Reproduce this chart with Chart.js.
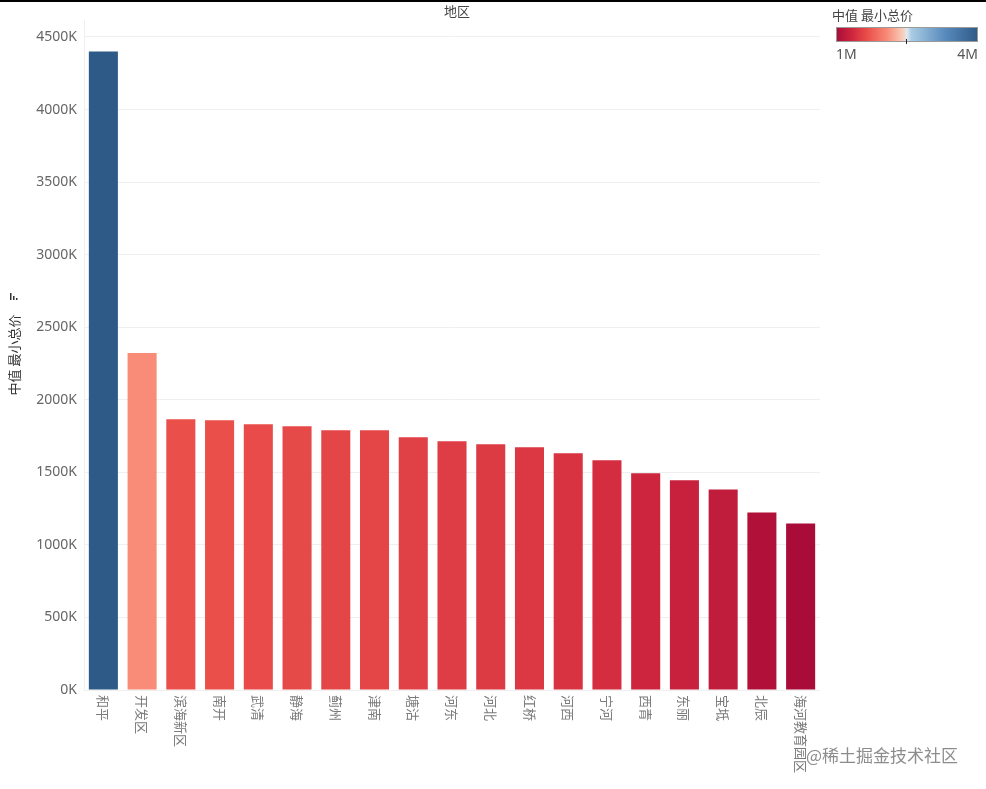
<!DOCTYPE html>
<html>
<head>
<meta charset="utf-8">
<script src="https://cdn.jsdelivr.net/npm/chart.js@4"></script>
<style>
    html, body { margin: 0; padding: 0; background: #fff; }
    #wrap { position: relative; width: 986px; height: 789px; border-top: 2px solid #000; box-sizing: border-box; }
    canvas { display: block; }
</style>
</head>
<body>
<div id="wrap"><canvas id="districtChart" width="986" height="787"></canvas></div>
<script>
const districts = ['和平', '开发区', '滨海新区', '南开', '武清', '静海', '蓟州', '津南', '塘沽', '河东',
    '河北', '红桥', '河西', '宁河', '西青', '东丽', '宝坻', '北辰', '海河教育园区'];
const medianMinPrice = [4400, 2323, 1866, 1859, 1832, 1818, 1790, 1790, 1742, 1714,
    1693, 1673, 1631, 1583, 1493, 1445, 1382, 1223, 1147];
const yTicks = [0, 500, 1000, 1500, 2000, 2500, 3000, 3500, 4000, 4500];
const legendLabels = ['1M', '4M'];

// diverging red-blue palette, positions are 0..1 of the value range
const paletteStops = [
    [0.00, [169, 12, 56]],
    [0.12, [208, 40, 62]],
    [0.22, [234, 79, 74]],
    [0.36, [248, 139, 120]],
    [0.47, [246, 205, 186]],
    [0.50, [225, 232, 238]],
    [0.53, [169, 204, 227]],
    [0.76, [90, 140, 190]],
    [1.00, [46, 90, 135]]
];

const minVal = Math.min(...medianMinPrice);
const maxVal = Math.max(...medianMinPrice);

function paletteAt(t) {
    t = Math.max(0, Math.min(1, t));
    for (let i = 1; i < paletteStops.length; i++) {
        const [p1, c1] = paletteStops[i];
        const [p0, c0] = paletteStops[i - 1];
        if (t <= p1) {
            const f = (t - p0) / (p1 - p0);
            const c = c0.map((v, k) => Math.round(v + (c1[k] - v) * f));
            return `rgb(${c[0]}, ${c[1]}, ${c[2]})`;
        }
    }
    return 'rgb(46, 90, 135)';
}

const barColors = medianMinPrice.map(v => paletteAt((v - minVal) / (maxVal - minVal)));

const extraText = {
    id: 'extraText',
    afterDraw(chart) {
        const ctx = chart.ctx;
        const x = chart.scales.x;
        const area = chart.chartArea;
        ctx.save();

        // rotated category labels (clockwise)
        ctx.fillStyle = '#7a7a7a';
        ctx.font = '13px "Noto Sans CJK SC"';
        ctx.textAlign = 'left';
        ctx.textBaseline = 'middle';
        districts.forEach((name, i) => {
            ctx.save();
            ctx.translate(x.getPixelForValue(i), area.bottom + 5);
            ctx.rotate(Math.PI / 2);
            ctx.fillText(name, 0, 0);
            ctx.restore();
        });

        // header
        ctx.fillStyle = '#444';
        ctx.font = '13px "Noto Sans CJK SC"';
        ctx.textAlign = 'center';
        ctx.fillText('地区', 457, 9);

        // small icon above the axis title
        ctx.fillStyle = '#333';
        ctx.fillRect(10, 291, 1.5, 7);
        ctx.fillRect(13, 294, 1.5, 4);
        ctx.fillRect(16, 296, 1.5, 2);

        // colour legend
        ctx.textAlign = 'left';
        ctx.fillStyle = '#444';
        ctx.font = '13px "Noto Sans CJK SC"';
        ctx.fillText('中值 最小总价', 832, 13);
        const lx = 836, ly = 25, lw = 142, lh = 15;
        const grad = ctx.createLinearGradient(lx, 0, lx + lw, 0);
        paletteStops.forEach(([p, c]) => grad.addColorStop(p, `rgb(${c[0]}, ${c[1]}, ${c[2]})`));
        ctx.fillStyle = grad;
        ctx.fillRect(lx, ly, lw, lh);
        ctx.strokeStyle = '#9a9a9a';
        ctx.lineWidth = 1;
        ctx.strokeRect(lx + 0.5, ly + 0.5, lw - 1, lh - 1);
        ctx.strokeStyle = '#222';
        ctx.beginPath();
        ctx.moveTo(906.5, ly + lh - 3);
        ctx.lineTo(906.5, ly + lh + 2);
        ctx.stroke();
        ctx.fillStyle = '#555';
        ctx.font = '14px "Noto Sans"';
        ctx.fillText(legendLabels[0], lx, 53);
        ctx.textAlign = 'right';
        ctx.fillText(legendLabels[1], lx + lw, 53);

        // watermark
        ctx.textAlign = 'left';
        ctx.fillStyle = 'rgba(120, 120, 120, 0.85)';
        ctx.font = '17px "Noto Sans CJK SC"';
        ctx.fillText('@稀土掘金技术社区', 806, 754);
        ctx.restore();
    }
};

const chart = new Chart(document.getElementById('districtChart').getContext('2d'), {
    type: 'bar',
    data: {
        labels: districts,
        datasets: [{
            label: '中值 最小总价',
            data: medianMinPrice,
            backgroundColor: barColors,
            borderWidth: 0,
            barPercentage: 0.75,
            categoryPercentage: 1.0
        }]
    },
    options: {
        responsive: false,
        animation: false,
        layout: { padding: { left: 6, top: 18, right: 166, bottom: 0 } },
        plugins: {
            legend: { display: false },
            tooltip: { enabled: false }
        },
        scales: {
            x: {
                grid: { display: false, drawTicks: false },
                border: { display: false },
                ticks: { display: false },
                afterFit: (scale) => { scale.height = 99; }
            },
            y: {
                min: 0,
                max: 4617,
                afterBuildTicks: (scale) => { scale.ticks = yTicks.map(v => ({ value: v })); },
                ticks: {
                    padding: 7,
                    color: '#666',
                    font: { family: 'Noto Sans', size: 14 },
                    callback: (value) => value + 'K'
                },
                grid: { color: '#efefef', drawTicks: false },
                border: { display: true, color: '#efefef' },
                title: {
                    display: true,
                    text: '中值 最小总价',
                    color: '#333',
                    font: { family: 'Noto Sans CJK SC', size: 13 },
                    padding: { top: 0, bottom: 0 }
                },
                afterFit: (scale) => { scale.width = 78; }
            }
        }
    },
    plugins: [extraText]
});
</script>
</body>
</html>
